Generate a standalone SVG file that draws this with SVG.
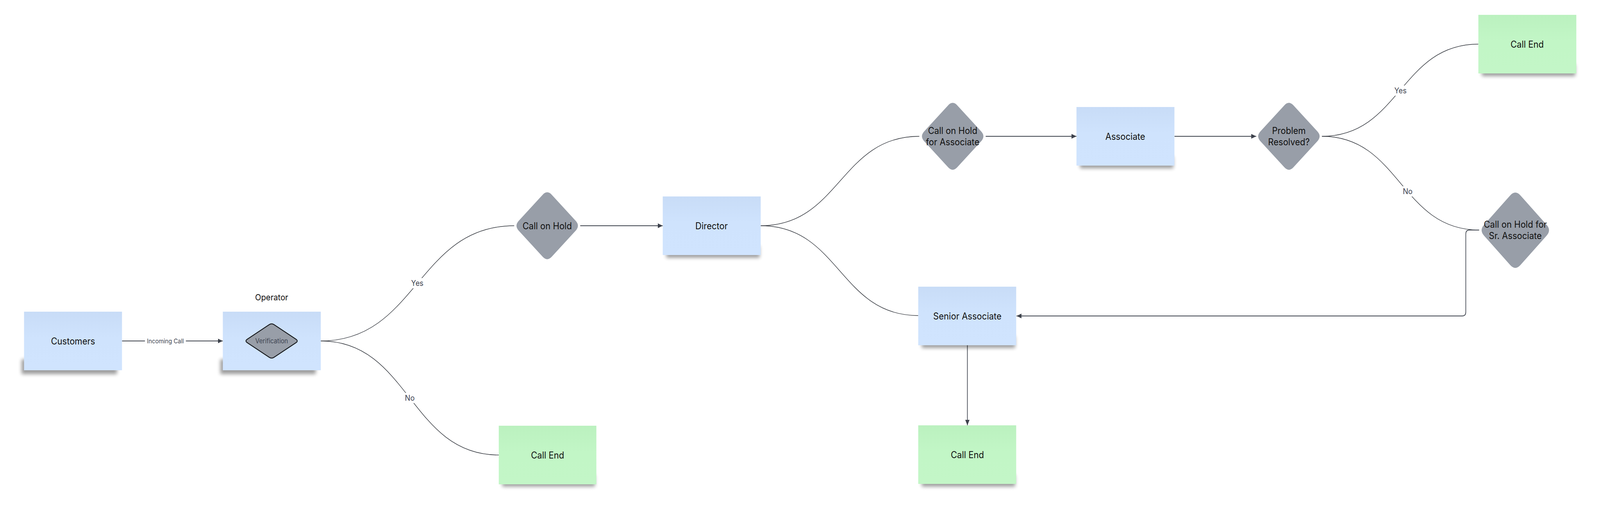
<svg xmlns="http://www.w3.org/2000/svg" width="4459" height="1293" viewBox="0 0 4459 1293" preserveAspectRatio="none" style="width:100vw;height:100vh;display:block">
  <style>
    .txt { font-family: Inter, "Liberation Sans", Arial, sans-serif; font-size: 24px; fill: #111111; text-anchor: middle; }
    .lbl { font-family: Inter, "Liberation Sans", Arial, sans-serif; font-size: 20px; fill: #3e4451; text-anchor: middle; }
    .small { font-family: Inter, "Liberation Sans", Arial, sans-serif; font-size: 16px; fill: #3e4451; text-anchor: middle; }
    .blue { fill: url(#gBlue); }
    .green { fill: url(#gGreen); }
    .shd { fill: #000000; opacity: 0.38; filter: url(#blur); }
    .dia { fill: #989ea8; }
    .curve { fill: none; stroke: #2f333a; stroke-width: 1.4; }
    .line { fill: none; stroke: #3d424c; stroke-width: 1.8; marker-end: url(#arrow); }
    .lblbg { fill: #ffffff; }
  </style>
  <defs>
    <linearGradient id="gBlue" x1="0" y1="0" x2="0" y2="1">
      <stop offset="0" stop-color="#c8dcf7"/>
      <stop offset="0.45" stop-color="#cfe3fd"/>
      <stop offset="1" stop-color="#d0e4fe"/>
    </linearGradient>
    <linearGradient id="gGreen" x1="0" y1="0" x2="0" y2="1">
      <stop offset="0" stop-color="#bbf1bf"/>
      <stop offset="0.45" stop-color="#c2f6c6"/>
      <stop offset="1" stop-color="#c3f6c7"/>
    </linearGradient>
    <filter id="blur" x="-20%" y="-100%" width="140%" height="300%">
      <feGaussianBlur stdDeviation="5"/>
    </filter>
    <marker id="arrow" viewBox="0 0 14 12" refX="14" refY="6" markerWidth="14" markerHeight="12" markerUnits="userSpaceOnUse" orient="auto">
      <path d="M0,0 L14,6 L0,12 Z" fill="#3d424c"/>
    </marker>
    <path id="dia92" d="M -12.73,-79.27 Q 0,-92 12.73,-79.27 L 79.27,-12.73 Q 92,0 79.27,12.73 L 12.73,79.27 Q 0,92 -12.73,79.27 L -79.27,12.73 Q -92,0 -79.27,-12.73 Z"/>
  </defs>

  <rect width="4459" height="1293" fill="#ffffff"/>

  <g id="connectors">
    <path class="line" d="M 340 873 L 621 873"/>
    <path class="curve" d="M 894 873 C 1163 873 1163 578 1433 578"/>
    <path class="curve" d="M 894 873 C 1142 873 1142 1165 1390 1165"/>
    <path class="line" d="M 1617 578 L 1847 578"/>
    <path class="curve" d="M 2120 578 C 2341 578 2341 349 2562 349"/>
    <path class="curve" d="M 2120 578 C 2340 578 2340 808 2559 808"/>
    <path class="line" d="M 2747 349 L 3000 349"/>
    <path class="line" d="M 3273 349 L 3501 349"/>
    <path class="curve" d="M 3684 349 C 3902 349 3902 113 4120 113"/>
    <path class="curve" d="M 3684 349 C 3903 349 3903 589 4122 589"/>
    <path class="line" d="M 4122 589 L 4095 589 Q 4085 589 4085 599 L 4085 799 Q 4085 809 4075 809 L 2833 809"/>
    <path class="line" d="M 2696 884 L 2696 1089"/>
    <rect class="lblbg" x="404" y="862" width="114" height="22"/>
    <text class="small" x="461" y="879">Incoming Call</text>
    <rect class="lblbg" x="1144" y="712" width="38" height="26"/>
    <text class="lbl" x="1163" y="732">Yes</text>
    <rect class="lblbg" x="1127" y="1006" width="30" height="26"/>
    <text class="lbl" x="1142" y="1026">No</text>
    <rect class="lblbg" x="3884" y="219" width="38" height="26"/>
    <text class="lbl" x="3903" y="239">Yes</text>
    <rect class="lblbg" x="3908" y="477" width="30" height="26"/>
    <text class="lbl" x="3923" y="497">No</text>
  </g>

  <g id="customers">
    <rect class="shd" x="60" y="920" width="266" height="38"/>
    <rect class="blue" x="67" y="798" width="273" height="150"/>
    <text class="txt" x="203.5" y="882">Customers</text>
  </g>

  <g id="operator">
    <text class="txt" x="757" y="769" style="font-size:22px">Operator</text>
    <rect class="shd" x="614" y="920" width="266" height="38"/>
    <rect class="blue" x="621" y="798" width="273" height="150"/>
    <path d="M -6.8,-41.8 Q 0,-46 6.8,-41.8 L 68.2,-4.2 Q 75,0 68.2,4.2 L 6.8,41.8 Q 0,46 -6.8,41.8 L -68.2,4.2 Q -75,0 -68.2,-4.2 Z" transform="translate(757 873)" fill="#989ea8" stroke="#15171b" stroke-width="2.2"/>
    <text class="small" x="757" y="879" style="font-size:17px">Verification</text>
  </g>

  <g id="call-end-1">
    <rect class="shd" x="1400" y="1216" width="258" height="30"/>
    <rect class="green" x="1390" y="1090" width="272" height="150"/>
    <text class="txt" x="1526" y="1174">Call End</text>
  </g>

  <g id="call-on-hold">
    <use href="#dia92" class="dia" transform="translate(1525 578)"/>
    <text class="txt" x="1525" y="587">Call on Hold</text>
  </g>

  <g id="director">
    <rect class="shd" x="1857" y="630" width="260" height="30"/>
    <rect class="blue" x="1847" y="503" width="273" height="150"/>
    <text class="txt" x="1983" y="587">Director</text>
  </g>

  <g id="call-on-hold-associate">
    <use href="#dia92" class="dia" transform="translate(2655 349)"/>
    <text class="txt" x="2655" y="343">Call on Hold</text>
    <text class="txt" x="2655" y="372">for Associate</text>
  </g>

  <g id="associate">
    <rect class="shd" x="3010" y="401" width="260" height="30"/>
    <rect class="blue" x="3000" y="274" width="273" height="150"/>
    <text class="txt" x="3136" y="358">Associate</text>
  </g>

  <g id="problem-resolved">
    <use href="#dia92" class="dia" transform="translate(3592 349)"/>
    <text class="txt" x="3592" y="343">Problem</text>
    <text class="txt" x="3592" y="372">Resolved?</text>
  </g>

  <g id="call-end-2">
    <rect class="shd" x="4130" y="165" width="260" height="30"/>
    <rect class="green" x="4120" y="38" width="273" height="150"/>
    <text class="txt" x="4256" y="122">Call End</text>
  </g>

  <g id="call-on-hold-sr-associate">
    <path class="dia" d="M -14.14,-89.36 Q 0,-103.5 14.14,-89.36 L 86.86,-14.14 Q 101,0 86.86,14.14 L 14.14,89.36 Q 0,103.5 -14.14,89.36 L -86.86,14.14 Q -101,0 -86.86,-14.14 Z" transform="translate(4223 589.5)"/>
    <text class="txt" x="4223" y="583">Call on Hold for</text>
    <text class="txt" x="4223" y="612">Sr. Associate</text>
  </g>

  <g id="senior-associate">
    <rect class="shd" x="2569" y="861" width="260" height="30"/>
    <rect class="blue" x="2559" y="734" width="273" height="150"/>
    <text class="txt" x="2696" y="818">Senior Associate</text>
  </g>

  <g id="call-end-3">
    <rect class="shd" x="2569" y="1216" width="260" height="30"/>
    <rect class="green" x="2559" y="1089" width="273" height="150"/>
    <text class="txt" x="2696" y="1173">Call End</text>
  </g>
</svg>
